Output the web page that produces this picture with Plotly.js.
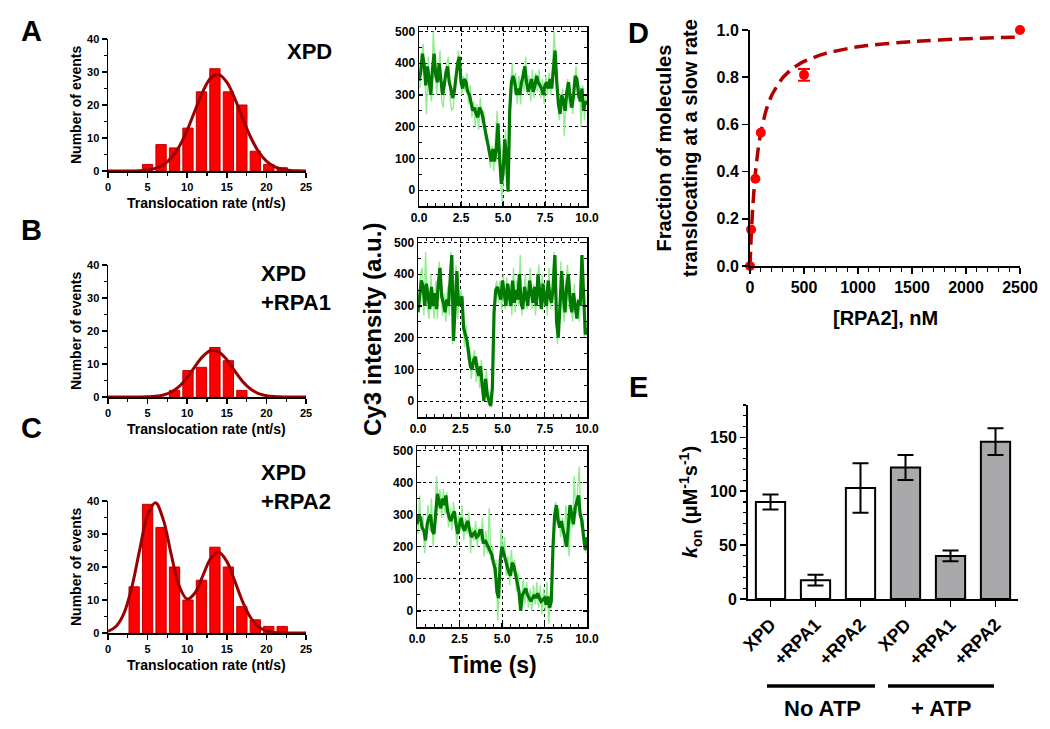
<!DOCTYPE html>
<html><head><meta charset="utf-8">
<script src="https://cdn.plot.ly/plotly-3.0.1.min.js"></script>
<style>html,body{margin:0;padding:0;background:#fff}#chart{width:1050px;height:729px}</style>
</head><body><div id="chart"></div>
<script>
// ---------- DATA ----------
// Histograms (A, B, C)
const binCenters = [3.3, 5.0, 6.7, 8.4, 10.1, 11.8, 13.5, 15.2, 16.9, 18.6, 20.3, 22.0];
const countsXPD  = [0, 2, 8, 7, 13, 24, 31, 24, 20, 6, 2, 1];
const countsRPA1 = [0, 0, 0, 2, 8, 9, 15, 11, 2, 0, 0, 0];
const countsRPA2 = [14, 39, 32, 20, 10, 16, 26, 20, 8, 4, 2, 2];
// Fitted curves
const fitRate = [0,1,2,3,4,5,6,7,8,9,10,11,12,13,14,15,16,17,18,19,20,21,22,23,24,25];
const fitXPD  = [0,0,0.01,0.03,0.1,0.29,0.78,1.9,4.0,7.4,12.4,18.4,24.2,28.2,29.2,26.9,22.0,15.9,10.3,5.9,3.0,1.35,0.54,0.19,0.06,0.02];
const fitRPA1 = [0,0,0,0,0,0.06,0.2,0.59,1.5,3.2,5.9,9.3,12.4,14.1,13.6,11.3,7.9,4.7,2.4,1.05,0.39,0.12,0.03,0,0,0];
const fitRPA2 = [0.5,1.97,5.9,13.8,25.2,35.7,39.45,34.2,23.6,14.2,10.3,12.2,17.5,22.7,24.5,21.7,15.8,9.5,4.7,1.9,0.62,0.17,0.04,0,0,0];

// Time traces (Cy3 intensity), smoothed (dark) sampled every 0.1 s from 0 s,
// raw (light) sampled every 0.1 s from 0.05 s
const smooth1 = [345,370,430,400,330,390,350,300,380,430,
  360,340,400,350,300,330,370,390,340,320,
  290,310,360,400,420,340,320,350,340,310,
  300,270,250,260,240,230,260,250,230,200,
  170,140,120,90,130,90,130,210,100,20,
  50,160,110,-5,250,340,360,340,300,320,
  300,340,360,390,340,310,330,350,310,330,
  360,340,330,320,300,330,340,320,350,320,
  380,440,340,270,240,300,280,250,310,340,
  290,260,300,360,350,300,280,320,250,280,270];
const raw1 = [320,420,460,350,240,420,310,280,500,400,
  300,380,440,280,260,360,400,420,290,250,
  260,350,380,440,390,300,360,310,370,270,
  330,230,280,200,270,190,290,210,250,160,
  150,120,70,140,60,160,250,120,30,-40,
  90,190,40,60,320,400,330,370,270,360,
  270,380,310,420,300,360,280,380,290,370,
  310,380,290,350,270,360,300,370,300,400,
  500,390,300,220,280,320,170,300,350,260,
  300,240,340,390,290,330,200,330,220,300];
const smooth2 = [280,340,380,360,300,370,330,290,360,300,
  340,290,370,420,330,310,280,320,300,380,
  460,190,280,410,300,320,330,230,210,190,
  150,110,100,130,140,100,80,110,50,0,
  70,20,0,-15,40,280,350,360,340,320,
  380,330,300,370,340,300,380,310,350,320,
  400,310,290,360,330,300,380,340,310,360,
  300,400,340,290,370,320,300,380,330,310,
  360,460,250,200,300,410,330,280,360,400,
  320,280,340,300,260,320,300,460,300,210,230];
const raw2 = [330,400,420,270,470,300,260,400,330,260,
  380,260,440,380,270,340,250,360,270,470,
  180,260,430,260,320,350,280,170,240,130,
  170,70,140,160,60,120,40,130,10,40,
  100,-10,30,-20,120,340,380,310,380,280,
  400,290,390,300,370,270,420,280,380,300,
  460,270,330,400,290,350,420,290,370,270,
  360,430,290,400,300,350,270,420,290,380,
  470,370,180,260,440,300,250,380,430,290,
  300,250,370,270,320,250,440,400,200,250];
const smooth3 = [270,300,290,260,250,220,270,290,300,250,
  240,300,365,340,320,350,330,360,310,290,
  280,300,310,270,240,270,290,260,250,270,
  280,250,230,240,245,230,235,250,250,210,
  220,210,200,190,175,150,130,60,40,160,
  200,180,160,140,120,110,150,140,110,90,
  60,0,50,60,70,50,40,30,40,50,
  40,55,40,30,35,40,20,45,10,30,
  200,300,330,280,260,280,250,230,200,280,
  330,300,270,320,340,360,300,280,230,190,230];
const raw3 = [240,360,250,300,180,260,330,250,350,200,
  280,420,320,380,290,380,300,370,260,320,
  250,340,280,200,300,250,330,220,290,240,
  310,180,260,220,280,200,260,220,290,170,
  250,180,320,160,200,110,160,-30,80,260,
  170,230,110,170,80,190,120,160,60,120,
  30,40,100,20,90,10,70,0,80,20,
  90,10,80,-10,70,0,90,-40,60,80,
  260,340,280,320,230,290,200,330,250,170,
  330,260,420,300,380,450,260,300,220,180];

// Panel D
const rpa2Conc = [0, 10, 50, 100, 500, 2500];
const fracSlow = [0, 0.155, 0.37, 0.565, 0.81, 1.0];
const fracErr  = [0, 0, 0, 0, 0.025, 0];
const fitConc = [0,10,25,50,75,100,150,200,300,400,500,700,1000,1500,2000,2500];
const fitFrac = [0,0.115,0.245,0.394,0.493,0.565,0.661,0.722,0.796,0.839,0.867,0.901,0.929,0.951,0.963,0.970];

// Panel E
const konLabels = ['XPD', '+RPA1', '+RPA2', 'XPD', '+RPA1', '+RPA2'];
const konValues = [90, 17.5, 103, 122, 40, 146];
const konErrors = [7, 5, 23, 11.5, 5, 12.5];
const withATP   = [false, false, false, true, true, true];
const groupLabels = ['No ATP', '+ ATP'];

// ---------- LAYOUT HELPERS ----------
const W = 1050, H = 729;
const F = 'Arial, "Liberation Sans", sans-serif';
const px = v => v / W;
const py = v => 1 - v / H;
const dom = (l, r, t, b) => ({x: [px(l), px(r)], y: [py(b), py(t)]});
const bold = (size) => ({family: F, size: size, color: '#000', weight: 'bold'});

const D = {
  hA: dom(108, 306, 39, 171),
  hB: dom(108, 306, 265, 397),
  hC: dom(108, 306, 501, 633),
  t1: dom(419, 587, 27, 206),
  t2: dom(418, 587, 238, 417),
  t3: dom(417, 587, 446, 627),
  d:  dom(750, 1020, 30, 266),
  e:  dom(748, 1018, 405, 599)
};

function histAxes(n, d) {
  const xa = {domain: d.x, anchor: 'y' + n, range: [0, 25], showline: true, linewidth: 1.5, linecolor: '#000',
    ticks: 'outside', ticklen: 5, tickwidth: 1.5, tickcolor: '#000', tick0: 0, dtick: 5,
    minor: {ticks: 'outside', dtick: 2.5, ticklen: 3, tickwidth: 1.2, tickcolor: '#000'},
    showgrid: false, zeroline: false, tickfont: bold(11), fixedrange: true};
  const ya = {domain: d.y, anchor: 'x' + n, range: [0, 40], showline: true, linewidth: 1.5, linecolor: '#000',
    ticks: 'outside', ticklen: 5, tickwidth: 1.5, tickcolor: '#000', tick0: 0, dtick: 10,
    minor: {ticks: 'outside', dtick: 5, ticklen: 3, tickwidth: 1.2, tickcolor: '#000'},
    showgrid: false, zeroline: false, tickfont: bold(11), fixedrange: true};
  return [xa, ya];
}
function traceAxes(n, d) {
  const common = {showline: true, linewidth: 1.5, linecolor: '#000', mirror: 'allticks',
    ticks: 'inside', ticklen: 4, tickwidth: 1.2, tickcolor: '#000',
    showgrid: true, gridcolor: '#000', gridwidth: 1, griddash: 'dot', zeroline: false,
    tickfont: bold(12), fixedrange: true};
  const xa = Object.assign({}, common, {domain: d.x, anchor: 'y' + n, range: [0, 10], tick0: 0, dtick: 2.5, tickformat: '.1f',
    minor: {ticks: 'inside', dtick: 0.5, ticklen: 3, tickwidth: 1, tickcolor: '#000'}});
  const ya = Object.assign({}, common, {domain: d.y, anchor: 'x' + n, range: [-50, 514], tick0: 0, dtick: 100,
    minor: {ticks: 'inside', dtick: 50, ticklen: 3, tickwidth: 1, tickcolor: '#000'}});
  return [xa, ya];
}

const layout = {
  width: W, height: H, margin: {l: 0, r: 0, t: 0, b: 0},
  paper_bgcolor: '#fff', plot_bgcolor: 'rgba(0,0,0,0)', showlegend: false,
  font: {family: F, color: '#000'}, bargap: 0
};
[['hA',1],['hB',2],['hC',3]].forEach(([k,n]) => {
  const [xa, ya] = histAxes(n, D[k]);
  layout['xaxis' + (n === 1 ? '' : n)] = xa; layout['yaxis' + (n === 1 ? '' : n)] = ya;
});
[['t1',4],['t2',5],['t3',6]].forEach(([k,n]) => {
  const [xa, ya] = traceAxes(n, D[k]);
  layout['xaxis' + n] = xa; layout['yaxis' + n] = ya;
});
layout.xaxis7 = {domain: D.d.x, anchor: 'y7', range: [0, 2500], showline: true, linewidth: 2, linecolor: '#000',
  ticks: 'outside', ticklen: 6, tickwidth: 1.5, tickcolor: '#000', tick0: 0, dtick: 500,
  minor: {ticks: 'outside', dtick: 100, ticklen: 3.5, tickwidth: 1.2, tickcolor: '#000'},
  showgrid: false, zeroline: false, tickfont: bold(16), fixedrange: true};
layout.yaxis7 = {domain: D.d.y, anchor: 'x7', range: [0, 1], showline: true, linewidth: 2, linecolor: '#000',
  ticks: 'outside', ticklen: 6, tickwidth: 1.5, tickcolor: '#000', tick0: 0, dtick: 0.2, tickformat: '.1f',
  showgrid: false, zeroline: false, tickfont: bold(16), fixedrange: true};
layout.xaxis8 = {domain: D.e.x, anchor: 'y8', range: [-0.5, 5.5], showline: true, linewidth: 2, linecolor: '#000',
  ticks: 'outside', ticklen: 6, tickwidth: 1.5, tickcolor: '#000',
  tickvals: konLabels.map((_, i) => i), ticktext: konLabels, tickangle: -45,
  showgrid: false, zeroline: false, tickfont: bold(18), fixedrange: true};
layout.yaxis8 = {domain: D.e.y, anchor: 'x8', range: [0, 180], showline: true, linewidth: 2, linecolor: '#000',
  ticks: 'outside', ticklen: 6, tickwidth: 1.5, tickcolor: '#000', tickvals: [0, 50, 100, 150],
  minor: {ticks: 'outside', dtick: 10, ticklen: 3.5, tickwidth: 1.2, tickcolor: '#000'},
  showgrid: false, zeroline: false, tickfont: bold(16), fixedrange: true};

// ---------- TRACES ----------
const data = [];
const histSets = [[countsXPD, fitXPD, ''], [countsRPA1, fitRPA1, '2'], [countsRPA2, fitRPA2, '3']];
histSets.forEach(([counts, fit, s]) => {
  const xs = [], ys = [];
  counts.forEach((c, i) => { if (c > 0) { xs.push(binCenters[i]); ys.push(c); } });
  data.push({type: 'bar', x: xs, y: ys, width: 1.3, xaxis: 'x' + s, yaxis: 'y' + s,
    marker: {color: '#ff0000', line: {color: '#c00000', width: 1}}, hoverinfo: 'skip'});
  data.push({type: 'scatter', mode: 'lines', x: fitRate, y: fit, xaxis: 'x' + s, yaxis: 'y' + s,
    line: {color: '#9b0000', width: 3, shape: 'spline', smoothing: 1}, cliponaxis: false, hoverinfo: 'skip'});
});
[[raw1, smooth1, 4], [raw2, smooth2, 5], [raw3, smooth3, 6]].forEach(([raw, sm, n]) => {
  data.push({type: 'scatter', mode: 'lines', y: raw, x0: 0.05, dx: 0.1, xaxis: 'x' + n, yaxis: 'y' + n,
    line: {color: '#90ee90', width: 1.4}, hoverinfo: 'skip'});
  data.push({type: 'scatter', mode: 'lines', y: sm, x0: 0, dx: 0.1, xaxis: 'x' + n, yaxis: 'y' + n,
    line: {color: '#007a00', width: 3.2}, hoverinfo: 'skip'});
});
// Panel D
data.push({type: 'scatter', mode: 'lines', x: fitConc, y: fitFrac, xaxis: 'x7', yaxis: 'y7',
  line: {color: '#b00000', width: 3.5, dash: '14px,7px', shape: 'spline', smoothing: 0.6}, cliponaxis: false, hoverinfo: 'skip'});
const eX = [], eY = [], eE = [];
fracErr.forEach((e, i) => { if (e > 0) { eX.push(rpa2Conc[i]); eY.push(fracSlow[i]); eE.push(e); } });
data.push({type: 'scatter', mode: 'markers', x: eX, y: eY, xaxis: 'x7', yaxis: 'y7',
  marker: {color: 'rgba(0,0,0,0)', size: 1},
  error_y: {type: 'data', array: eE, visible: true, color: '#ff0000', thickness: 2, width: 6}, cliponaxis: false, hoverinfo: 'skip'});
data.push({type: 'scatter', mode: 'markers', x: rpa2Conc, y: fracSlow, xaxis: 'x7', yaxis: 'y7',
  marker: {color: '#ff0000', size: 10}, cliponaxis: false, hoverinfo: 'skip'});
// Panel E
data.push({type: 'bar', x: konLabels.map((_, i) => i), y: konValues, width: 0.65, xaxis: 'x8', yaxis: 'y8',
  marker: {color: withATP.map(a => a ? '#a9a9ab' : '#ffffff'), line: {color: '#000', width: 2}},
  error_y: {type: 'data', array: konErrors, visible: true, color: '#000', thickness: 2, width: 8}, hoverinfo: 'skip'});

// ---------- ANNOTATIONS ----------
const ann = [];
function A(text, x, y, size, extra) {
  ann.push(Object.assign({text: text, x: px(x), y: py(y), xref: 'paper', yref: 'paper', showarrow: false,
    font: bold(size), xanchor: 'center', yanchor: 'middle'}, extra || {}));
}
A('A', 31, 31, 29); A('B', 31, 230, 29); A('C', 31, 428, 29);
A('D', 638, 33, 29); A('E', 638, 387, 29);
[105, 331, 567].forEach(y => A('Number of events', 76, y, 14, {textangle: -90}));
[203, 429, 665].forEach(y => A('Translocation rate (nt/s)', 206, y, 14));
A('XPD', 285, 52, 22, {xanchor: 'left'});
A('XPD<br>+RPA1', 259, 288, 22, {xanchor: 'left', align: 'left'});
A('XPD<br>+RPA2', 259, 487, 22, {xanchor: 'left', align: 'left'});
A('Cy3 intensity (a.u.)', 373, 330, 24, {textangle: -90});
A('Time (s)', 493, 665, 23);
A('Fraction of molecules<br>translocating at a slow rate', 677, 148, 20, {textangle: -90});
A('[RPA2], nM', 885, 318, 20);
A('<i>k</i><sub>on</sub> (μM<sup>-1</sup>s<sup>-1</sup>)', 690, 502, 20, {textangle: -90});
A(groupLabels[0], 822, 708, 22);
A(groupLabels[1], 941, 708, 22);
layout.annotations = ann;
layout.shapes = [
  {type: 'line', xref: 'paper', yref: 'paper', x0: px(767), x1: px(875), y0: py(686), y1: py(686), line: {color: '#000', width: 3.5}},
  {type: 'line', xref: 'paper', yref: 'paper', x0: px(888), x1: px(994), y0: py(686), y1: py(686), line: {color: '#000', width: 3.5}}
];

Plotly.newPlot('chart', data, layout, {staticPlot: true, displayModeBar: false});
</script></body></html>
